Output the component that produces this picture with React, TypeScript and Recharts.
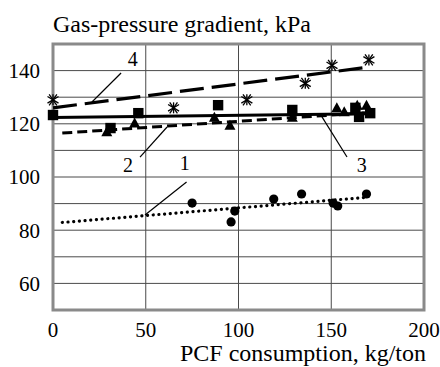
import { ComposedChart, Line, Scatter, XAxis, YAxis, CartesianGrid, ReferenceArea, ReferenceLine, ReferenceDot } from 'recharts'

// measured points (PCF consumption kg/ton, gas-pressure gradient kPa)
const curve1 = [
  { x: 75, y: 90.2 }, { x: 96, y: 83.1 }, { x: 98, y: 87.2 }, { x: 119, y: 91.7 },
  { x: 134, y: 93.6 }, { x: 151, y: 90.2 }, { x: 153.5, y: 89.1 }, { x: 169, y: 93.6 },
]
const curve2 = [
  { x: 29, y: 117 }, { x: 44, y: 120.3 }, { x: 87, y: 122.5 }, { x: 95.4, y: 119.5 },
  { x: 129, y: 122.5 }, { x: 153, y: 126 }, { x: 157, y: 124.5 }, { x: 164, y: 127 }, { x: 169, y: 127 },
]
const curve3 = [
  { x: 0, y: 123.3 }, { x: 31, y: 118.4 }, { x: 46, y: 124 }, { x: 89, y: 127 },
  { x: 129, y: 125.2 }, { x: 163, y: 126 }, { x: 165, y: 122.6 }, { x: 171, y: 124 },
]
const curve4 = [
  { x: 0, y: 129 }, { x: 65, y: 126 }, { x: 104.5, y: 129 }, { x: 136, y: 135.2 },
  { x: 150.4, y: 142 }, { x: 170.3, y: 144 },
]

// trend line end points as drawn
const trend1 = [{ x: 5, y: 82.9 }, { x: 170, y: 92.4 }]
const trend2 = [{ x: 5, y: 116.5 }, { x: 170, y: 124.2 }]
const trend3 = [{ x: 0, y: 122.4 }, { x: 170, y: 123.8 }]
const trend4 = [{ x: 0, y: 126 }, { x: 170, y: 141.3 }]

const xTicks = [0, 50, 100, 150, 200]
const yGridTicks = [50, 60, 70, 80, 90, 100, 110, 120, 130, 140, 150]
const yLabelTicks = [60, 80, 100, 120, 140]

const curveLabels = [
  { name: '4', x: 43, y: 144.5 },
  { name: '2', x: 40.4, y: 104.5 },
  { name: '1', x: 71, y: 105.3 },
  { name: '3', x: 166.5, y: 104.5 },
]
const leaders = [
  { x1: 36.7, y1: 139.1, x2: 21, y2: 128.2 },
  { x1: 61.5, y1: 118.8, x2: 46.9, y2: 107.5 },
  { x1: 72, y1: 98.1, x2: 49.6, y2: 85.7 },
  { x1: 145, y1: 122.6, x2: 158.5, y2: 107.5 },
]

const font = 'Liberation Serif, Times New Roman, serif'
const ink = '#000'

const Dot = (p: any) => <circle cx={p.cx} cy={p.cy} r={4.6} fill={ink} />
const Tri = (p: any) => (
  <path d={`M${p.cx},${p.cy - 5.5} L${p.cx + 5.5},${p.cy + 4.5} L${p.cx - 5.5},${p.cy + 4.5} Z`} fill={ink} />
)
const Sq = (p: any) => <rect x={p.cx - 5.2} y={p.cy - 5.2} width={10.4} height={10.4} fill={ink} />
const Star = (p: any) => {
  const { cx, cy } = p
  const r = 5.5
  return (
    <g stroke={ink} strokeWidth={1.3}>
      <line x1={cx} y1={cy - r} x2={cx} y2={cy + r} />
      <line x1={cx - r} y1={cy - r * 0.6} x2={cx + r} y2={cy + r * 0.6} />
      <line x1={cx - r} y1={cy + r * 0.6} x2={cx + r} y2={cy - r * 0.6} />
      <line x1={cx - r * 0.7} y1={cy - r} x2={cx + r * 0.7} y2={cy + r} />
      <line x1={cx - r * 0.7} y1={cy + r} x2={cx + r * 0.7} y2={cy - r} />
    </g>
  )
}

export default function App() {
  return (
    <div style={{ position: 'absolute', left: 0, top: 0, width: 440, height: 367, background: '#fff', fontFamily: font }}>
      <ComposedChart width={440} height={367} margin={{ top: 44, right: 16, left: 6, bottom: 27 }}>
        <CartesianGrid stroke="#4a4a4a" strokeWidth={1} />
        <XAxis
          type="number"
          dataKey="x"
          domain={[0, 200]}
          ticks={xTicks}
          axisLine={false}
          tickLine={false}
          tickMargin={6}
          height={30}
          tick={{ fill: ink, fontSize: 21, fontFamily: font }}
        />
        <YAxis
          type="number"
          dataKey="y"
          domain={[50, 150]}
          ticks={yGridTicks}
          axisLine={false}
          tickLine={false}
          width={47}
          tickMargin={7}
          tickFormatter={(v: number) => (yLabelTicks.includes(v) ? String(v) : '')}
          tick={{ fill: ink, fontSize: 21, fontFamily: font }}
        />
        <ReferenceArea x1={0} x2={200} y1={50} y2={150} fill="none" stroke="#8a8a8a" strokeWidth={3} />

        <Line data={trend1} dataKey="y" stroke={ink} strokeWidth={3.2} strokeDasharray="0.1 5.6" strokeLinecap="round" dot={false} isAnimationActive={false} />
        <Line data={trend2} dataKey="y" stroke={ink} strokeWidth={3} strokeDasharray="10 5" dot={false} isAnimationActive={false} />
        <Line data={trend3} dataKey="y" stroke={ink} strokeWidth={3} dot={false} isAnimationActive={false} />
        <Line data={trend4} dataKey="y" stroke={ink} strokeWidth={3.2} strokeDasharray="24 8" dot={false} isAnimationActive={false} />

        <Scatter data={curve1} dataKey="y" shape={Dot} isAnimationActive={false} />
        <Scatter data={curve2} dataKey="y" shape={Tri} isAnimationActive={false} />
        <Scatter data={curve3} dataKey="y" shape={Sq} isAnimationActive={false} />
        <Scatter data={curve4} dataKey="y" shape={Star} isAnimationActive={false} />

        {leaders.map((l, i) => (
          <ReferenceLine key={i} segment={[{ x: l.x1, y: l.y1 }, { x: l.x2, y: l.y2 }]} stroke={ink} strokeWidth={1.2} />
        ))}
        {curveLabels.map((c) => (
          <ReferenceDot
            key={c.name}
            x={c.x}
            y={c.y}
            shape={(p: any) => (
              <text x={p.cx} y={p.cy} textAnchor="middle" dominantBaseline="central" fontSize={20} fontFamily={font} fill={ink}>
                {c.name}
              </text>
            )}
          />
        ))}
      </ComposedChart>
      <div style={{ position: 'absolute', left: 53, top: 12, fontSize: 24, lineHeight: '24px', color: ink, whiteSpace: 'nowrap' }}>
        Gas-pressure gradient, kPa
      </div>
      <div style={{ position: 'absolute', right: 14, top: 343, fontSize: 24, lineHeight: '20px', color: ink, whiteSpace: 'nowrap' }}>
        PCF consumption, kg/ton
      </div>
    </div>
  )
}
